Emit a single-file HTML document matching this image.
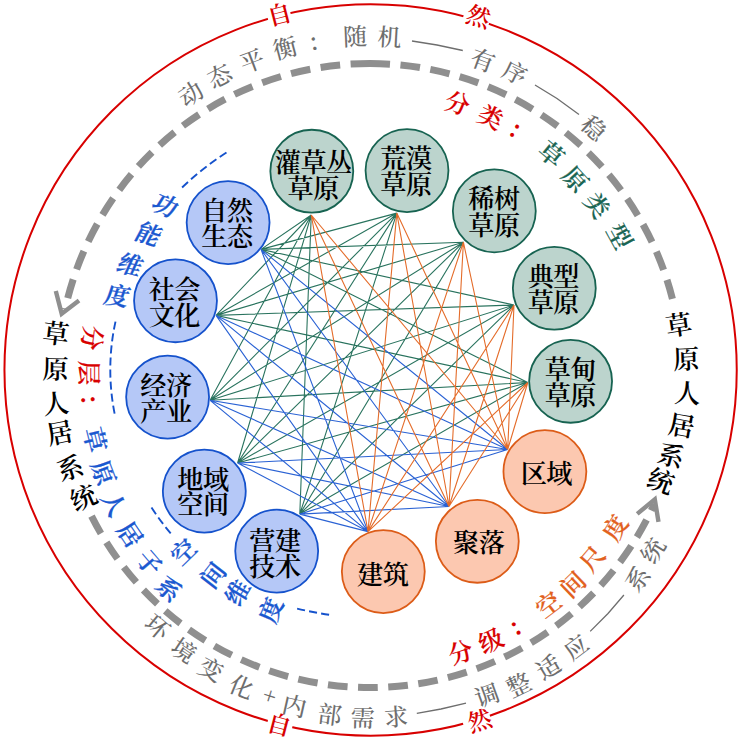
<!DOCTYPE html>
<html lang="zh-CN">
<head>
<meta charset="utf-8">
<title>草原人居系统</title>
<style>
html,body{margin:0;padding:0;background:#fff;}
body{width:741px;height:741px;overflow:hidden;font-family:"Liberation Serif",serif;}
svg{display:block;}
.t text{font-family:"Liberation Serif",serif;font-size:24px;fill:none;stroke:none;}
.k{font-family:"Liberation Serif","Noto Serif CJK SC",serif;text-anchor:middle;}
.b{font-weight:600;}
.m{font-weight:500;}
</style>
</head>
<body>
<svg width="741" height="741" viewBox="0 0 741 741">
<rect width="741" height="741" fill="#fff"/>
<ellipse cx="370.6" cy="369.95" rx="366.15" ry="365.75" fill="none" stroke="#d80000" stroke-width="2"/>
<rect x="-12.2" y="-13" width="23.3" height="26" fill="#fff" transform="translate(279.3 14.2) rotate(-14.39)"/>
<text class="k b" transform="translate(279.3 14.2) rotate(-14.39)" y="9.12" font-size="24" fill="#d80000">自</text>
<rect x="-14.5" y="-13" width="26.5" height="26" fill="#fff" transform="translate(478.6 16.2) rotate(16.98)"/>
<text class="k b" transform="translate(478.6 16.2) rotate(16.98)" y="9.12" font-size="24" fill="#d80000">然</text>
<rect x="-12" y="-13" width="25.3" height="26" fill="#fff" transform="translate(279.3 724.3) rotate(14.45)"/>
<text class="k b" transform="translate(279.3 724.3) rotate(14.45)" y="9.12" font-size="24" fill="#d80000">自</text>
<rect x="-16.6" y="-13" width="27.9" height="26" fill="#fff" transform="translate(479.4 720.3) rotate(-17.25)"/>
<text class="k b" transform="translate(479.4 720.3) rotate(-17.25)" y="9.12" font-size="24" fill="#d80000">然</text>
<path d="M389.99 64.14A312 312 0 0 0 350.61 64.1M340.15 64.93A312 312 0 0 0 320.61 67.43M310.27 69.27A312 312 0 0 0 291.07 73.65M280.96 76.48A312 312 0 0 0 262.26 82.69M252.47 86.48A312 312 0 0 0 234.47 94.47M225.09 99.19A312 312 0 0 0 207.95 108.89M199.07 114.49A312 312 0 0 0 182.94 125.8M174.64 132.23A312 312 0 0 0 159.68 145.04M152.05 152.25A312 312 0 0 0 138.39 166.45M131.49 174.36A312 312 0 0 0 119.27 189.81M113.17 198.35A312 312 0 0 0 102.5 214.91M97.25 224A312 312 0 0 0 88.23 241.51M83.89 251.07A312 312 0 0 0 76.6 269.37M73.2 279.3A312 312 0 0 0 67.72 298.22M65.29 308.44A312 312 0 0 0 65.05 309.57" fill="none" stroke="#8f8f8f" stroke-width="7"/>
<path d="M400.45 64.99A312 312 0 0 1 419.98 67.53M430.32 69.39A312 312 0 0 1 449.51 73.8M459.62 76.65A312 312 0 0 1 478.3 82.9M488.08 86.71A312 312 0 0 1 506.07 94.73M515.44 99.47A312 312 0 0 1 532.57 109.2M541.43 114.82A312 312 0 0 1 557.54 126.16M565.83 132.61A312 312 0 0 1 580.76 145.45M588.38 152.67A312 312 0 0 1 602.01 166.89M608.9 174.82A312 312 0 0 1 621.08 190.29M627.17 198.85A312 312 0 0 1 637.81 215.43M643.04 224.53A312 312 0 0 1 652.02 242.06M656.35 251.62A312 312 0 0 1 663.6 269.94M666.98 279.88A312 312 0 0 1 672.43 298.81" fill="none" stroke="#8f8f8f" stroke-width="7"/>
<path d="M55.8 291 L61.7 313.7 L79 300.6" fill="none" stroke="#8f8f8f" stroke-width="4.4" stroke-linejoin="miter" stroke-miterlimit="10"/>
<path d="M358.05 687.27A312 312 0 0 0 377.75 687.4M388.24 686.97A312 312 0 0 0 407.86 685.19M418.26 683.75A312 312 0 0 0 437.61 680.09M447.82 677.64A312 312 0 0 0 466.73 672.13M476.66 668.7A312 312 0 0 0 494.94 661.39M504.49 657.02A312 312 0 0 0 521.99 647.98M531.07 642.71A312 312 0 0 0 547.61 632.01M556.14 625.89A312 312 0 0 0 571.57 613.65M579.47 606.73A312 312 0 0 0 593.64 593.05M600.83 585.4A312 312 0 0 0 613.62 570.42M620.04 562.11A312 312 0 0 0 631.32 545.96M636.9 537.07A312 312 0 0 0 646.57 519.91M651.27 510.52A312 312 0 0 0 654.36 503.89" fill="none" stroke="#8f8f8f" stroke-width="7"/>
<path d="M347.57 686.69A312 312 0 0 1 327.98 684.66M317.6 683.07A312 312 0 0 1 298.3 679.15M288.12 676.56A312 312 0 0 1 269.29 670.8M259.41 667.24A312 312 0 0 1 241.22 659.68M231.73 655.19A312 312 0 0 1 214.36 645.91M205.35 640.52A312 312 0 0 1 188.95 629.6M180.51 623.36A312 312 0 0 1 165.24 610.91M157.44 603.89A312 312 0 0 1 143.45 590.02M136.36 582.28A312 312 0 0 1 123.78 567.12M117.47 558.73A312 312 0 0 1 106.41 542.43M100.95 533.47A312 312 0 0 1 91.51 516.17" fill="none" stroke="#8f8f8f" stroke-width="7"/>
<path d="M637.2 513.9 L654.8 499.4 L658.5 521.8" fill="none" stroke="#8f8f8f" stroke-width="4.4" stroke-linejoin="miter" stroke-miterlimit="10"/>
<path d="M226.5 152.5A285.19 285.19 0 0 0 219.74 156.96M216.42 159.24A285.19 285.19 0 0 0 209.85 163.98M206.63 166.41A285.19 285.19 0 0 0 200.27 171.43M197.15 173.99A285.19 285.19 0 0 0 191.01 179.27M188.01 181.96A285.19 285.19 0 0 0 182.1 187.5" fill="none" stroke="#1552cc" stroke-width="1.9"/>
<path d="M115.5 321.6A225.23 225.23 0 0 0 113.91 329.54M113.23 333.46A225.23 225.23 0 0 0 112.07 341.48M111.61 345.43A225.23 225.23 0 0 0 110.88 353.5M110.63 357.47A225.23 225.23 0 0 0 110.33 365.56M110.29 369.54A225.23 225.23 0 0 0 110.43 377.64M110.6 381.62A225.23 225.23 0 0 0 111.18 389.7M111.56 393.66A225.23 225.23 0 0 0 112.57 401.69M113.17 405.63A225.23 225.23 0 0 0 114.6 413.6" fill="none" stroke="#1552cc" stroke-width="1.9"/>
<path d="M151.5 507.5A240.01 240.01 0 0 0 156 514.23M158.28 517.45A240.01 240.01 0 0 0 163.11 523.95M165.54 527.05A240.01 240.01 0 0 0 170.7 533.3" fill="none" stroke="#1552cc" stroke-width="1.9"/>
<path d="M297.1 608.6A366.08 366.08 0 0 0 305 610.38M309.06 611.23A366.08 366.08 0 0 0 317.01 612.74M321.1 613.45A366.08 366.08 0 0 0 329.1 614.7" fill="none" stroke="#1552cc" stroke-width="1.9"/>
<path d="M311.25 215L299.8 514.1M311.25 215L237.6 463M311.25 215L210.1 400.3M311.25 215L216 315.4M311.25 215L261 249.4M396.8 213.1L299.8 514.1M396.8 213.1L237.6 463M396.8 213.1L210.1 400.3M396.8 213.1L216 315.4M396.8 213.1L261 249.4M463.4 242.2L299.8 514.1M463.4 242.2L237.6 463M463.4 242.2L210.1 400.3M463.4 242.2L216 315.4M463.4 242.2L261 249.4M514 305L299.8 514.1M514 305L237.6 463M514 305L210.1 400.3M514 305L216 315.4M514 305L261 249.4M527.8 382.5L299.8 514.1M527.8 382.5L237.6 463M527.8 382.5L210.1 400.3M527.8 382.5L216 315.4M527.8 382.5L261 249.4" fill="none" stroke="#29735e" stroke-width="1.1"/>
<path d="M299.8 514.1L507.7 449.5M299.8 514.1L449 506.5M299.8 514.1L368 531.6M237.6 463L507.7 449.5M237.6 463L449 506.5M237.6 463L368 531.6M210.1 400.3L507.7 449.5M210.1 400.3L449 506.5M210.1 400.3L368 531.6M216 315.4L507.7 449.5M216 315.4L449 506.5M216 315.4L368 531.6M261 249.4L507.7 449.5M261 249.4L449 506.5M261 249.4L368 531.6" fill="none" stroke="#2a62d4" stroke-width="1.1"/>
<path d="M311.25 215L507.7 449.5M311.25 215L449 506.5M311.25 215L368 531.6M396.8 213.1L507.7 449.5M396.8 213.1L449 506.5M396.8 213.1L368 531.6M463.4 242.2L507.7 449.5M463.4 242.2L449 506.5M463.4 242.2L368 531.6M514 305L507.7 449.5M514 305L449 506.5M514 305L368 531.6M527.8 382.5L507.7 449.5M527.8 382.5L449 506.5M527.8 382.5L368 531.6" fill="none" stroke="#e46c2a" stroke-width="1.1"/>
<circle cx="311.8" cy="171.2" r="41.45" fill="#bcd4cd" stroke="#176351" stroke-width="1.8"/>
<text class="k b" x="287.8" y="172.16" font-size="26.2" fill="#000">灌</text>
<text class="k b" x="313.5" y="172.16" font-size="26.2" fill="#000">草</text>
<text class="k b" x="339.2" y="172.16" font-size="26.2" fill="#000">丛</text>
<text class="k b" x="300.65" y="198.16" font-size="26.2" fill="#000">草</text>
<text class="k b" x="326.35" y="198.16" font-size="26.2" fill="#000">原</text>
<circle cx="407" cy="170.6" r="41.45" fill="#bcd4cd" stroke="#176351" stroke-width="1.8"/>
<text class="k b" x="393.45" y="168.46" font-size="26.2" fill="#000">荒</text>
<text class="k b" x="419.15" y="168.46" font-size="26.2" fill="#000">漠</text>
<text class="k b" x="393.45" y="194.36" font-size="26.2" fill="#000">草</text>
<text class="k b" x="419.15" y="194.36" font-size="26.2" fill="#000">原</text>
<circle cx="494.3" cy="210.9" r="41.45" fill="#bcd4cd" stroke="#176351" stroke-width="1.8"/>
<text class="k b" x="481.45" y="208.46" font-size="26.2" fill="#000">稀</text>
<text class="k b" x="507.15" y="208.46" font-size="26.2" fill="#000">树</text>
<text class="k b" x="481.45" y="234.76" font-size="26.2" fill="#000">草</text>
<text class="k b" x="507.15" y="234.76" font-size="26.2" fill="#000">原</text>
<circle cx="554.3" cy="288.25" r="41.45" fill="#bcd4cd" stroke="#176351" stroke-width="1.8"/>
<text class="k b" x="540.75" y="286.06" font-size="26.2" fill="#000">典</text>
<text class="k b" x="566.45" y="286.06" font-size="26.2" fill="#000">型</text>
<text class="k b" x="540.75" y="312.06" font-size="26.2" fill="#000">草</text>
<text class="k b" x="566.45" y="312.06" font-size="26.2" fill="#000">原</text>
<circle cx="570.6" cy="381.3" r="41.45" fill="#bcd4cd" stroke="#176351" stroke-width="1.8"/>
<text class="k b" x="557.75" y="378.76" font-size="26.2" fill="#000">草</text>
<text class="k b" x="583.45" y="378.76" font-size="26.2" fill="#000">甸</text>
<text class="k b" x="557.75" y="404.76" font-size="26.2" fill="#000">草</text>
<text class="k b" x="583.45" y="404.76" font-size="26.2" fill="#000">原</text>
<circle cx="544.9" cy="471.6" r="41.45" fill="#fcc8b0" stroke="#dc5c18" stroke-width="1.8"/>
<text class="k b" x="533.75" y="482.96" font-size="26.2" fill="#000">区</text>
<text class="k b" x="559.45" y="482.96" font-size="26.2" fill="#000">域</text>
<circle cx="477.3" cy="541.3" r="41.45" fill="#fcc8b0" stroke="#dc5c18" stroke-width="1.8"/>
<text class="k b" x="466.15" y="551.56" font-size="26.2" fill="#000">聚</text>
<text class="k b" x="491.85" y="551.56" font-size="26.2" fill="#000">落</text>
<circle cx="383.3" cy="571.6" r="41.45" fill="#fcc8b0" stroke="#dc5c18" stroke-width="1.8"/>
<text class="k b" x="370.05" y="583.96" font-size="26.2" fill="#000">建</text>
<text class="k b" x="395.75" y="583.96" font-size="26.2" fill="#000">筑</text>
<circle cx="276.7" cy="551.1" r="41.45" fill="#b5c8f7" stroke="#1552cc" stroke-width="1.8"/>
<text class="k b" x="262.45" y="549.76" font-size="26.2" fill="#000">营</text>
<text class="k b" x="288.15" y="549.76" font-size="26.2" fill="#000">建</text>
<text class="k b" x="262.45" y="576.06" font-size="26.2" fill="#000">技</text>
<text class="k b" x="288.15" y="576.06" font-size="26.2" fill="#000">术</text>
<circle cx="204.3" cy="491.1" r="41.45" fill="#b5c8f7" stroke="#1552cc" stroke-width="1.8"/>
<text class="k b" x="190.45" y="488.76" font-size="26.2" fill="#000">地</text>
<text class="k b" x="216.15" y="488.76" font-size="26.2" fill="#000">域</text>
<text class="k b" x="190.45" y="514.36" font-size="26.2" fill="#000">空</text>
<text class="k b" x="216.15" y="514.36" font-size="26.2" fill="#000">间</text>
<circle cx="167.6" cy="397.1" r="41.45" fill="#b5c8f7" stroke="#1552cc" stroke-width="1.8"/>
<text class="k b" x="153.45" y="395.36" font-size="26.2" fill="#000">经</text>
<text class="k b" x="179.15" y="395.36" font-size="26.2" fill="#000">济</text>
<text class="k b" x="153.45" y="421.06" font-size="26.2" fill="#000">产</text>
<text class="k b" x="179.15" y="421.06" font-size="26.2" fill="#000">业</text>
<circle cx="175.5" cy="300.8" r="41.45" fill="#b5c8f7" stroke="#1552cc" stroke-width="1.8"/>
<text class="k b" x="161.75" y="298.76" font-size="26.2" fill="#000">社</text>
<text class="k b" x="187.45" y="298.76" font-size="26.2" fill="#000">会</text>
<text class="k b" x="161.75" y="324.71" font-size="26.2" fill="#000">文</text>
<text class="k b" x="187.45" y="324.71" font-size="26.2" fill="#000">化</text>
<circle cx="228.1" cy="222.6" r="41.45" fill="#b5c8f7" stroke="#1552cc" stroke-width="1.8"/>
<text class="k b" x="214.35" y="220.06" font-size="26.2" fill="#000">自</text>
<text class="k b" x="240.05" y="220.06" font-size="26.2" fill="#000">然</text>
<text class="k b" x="214.35" y="246.36" font-size="26.2" fill="#000">生</text>
<text class="k b" x="240.05" y="246.36" font-size="26.2" fill="#000">态</text>
<text class="k m" transform="translate(190.7 93.7) rotate(-32.79)" y="9.12" font-size="24" fill="#6e6e6e">动</text>
<text class="k m" transform="translate(219.4 75.8) rotate(-26.95)" y="9.12" font-size="24" fill="#6e6e6e">态</text>
<text class="k m" transform="translate(252 60.6) rotate(-20.75)" y="9.12" font-size="24" fill="#6e6e6e">平</text>
<text class="k m" transform="translate(285 47.8) rotate(-14.69)" y="9.12" font-size="24" fill="#6e6e6e">衡</text>
<text class="k m" style="text-anchor:start" transform="translate(314 43.7) rotate(-9.68)" x="-5.82" y="7.18" font-size="24" fill="#6e6e6e">：</text>
<text class="k m" transform="translate(355 36.2) rotate(-2.56)" y="9.12" font-size="24" fill="#6e6e6e">随</text>
<text class="k m" transform="translate(389.6 36.9) rotate(3.35)" y="9.12" font-size="24" fill="#6e6e6e">机</text>
<text class="k m" transform="translate(483 60) rotate(19.91)" y="9.12" font-size="24" fill="#6e6e6e">有</text>
<text class="k m" transform="translate(515 72.4) rotate(25.83)" y="9.12" font-size="24" fill="#6e6e6e">序</text>
<text class="k m" transform="translate(594 128) rotate(42.55)" y="9.12" font-size="24" fill="#6e6e6e">稳</text>
<path d="M412 41 L437 45 L462.8 50.5" fill="none" stroke="#6e6e6e" stroke-width="1.3"/>
<path d="M535 85 L557 98.5 L579 114.6" fill="none" stroke="#6e6e6e" stroke-width="1.3"/>
<text class="k m" transform="translate(157.5 626.8) rotate(39.83)" y="9.12" font-size="24" fill="#6e6e6e">环</text>
<text class="k m" transform="translate(183.9 650.4) rotate(33.76)" y="9.12" font-size="24" fill="#6e6e6e">境</text>
<text class="k m" transform="translate(211.2 669) rotate(28.13)" y="9.12" font-size="24" fill="#6e6e6e">变</text>
<text class="k m" transform="translate(241.8 686.5) rotate(22.18)" y="9.12" font-size="24" fill="#6e6e6e">化</text>
<text class="k m" transform="translate(269.8 695.3) rotate(17.22)" y="8.6" font-size="24" fill="#6e6e6e">+</text>
<text class="k m" transform="translate(294.4 705.8) rotate(12.76)" y="9.12" font-size="24" fill="#6e6e6e">内</text>
<text class="k m" transform="translate(329.8 714.3) rotate(6.7)" y="9.12" font-size="24" fill="#6e6e6e">部</text>
<text class="k m" transform="translate(362.7 717.6) rotate(1.21)" y="9.12" font-size="24" fill="#6e6e6e">需</text>
<text class="k m" transform="translate(396 716.6) rotate(-4.31)" y="9.12" font-size="24" fill="#6e6e6e">求</text>
<text class="k m" transform="translate(487 695) rotate(-19.91)" y="9.12" font-size="24" fill="#6e6e6e">调</text>
<text class="k m" transform="translate(518.6 684.6) rotate(-25.42)" y="9.12" font-size="24" fill="#6e6e6e">整</text>
<text class="k m" transform="translate(548.4 667) rotate(-31.16)" y="9.12" font-size="24" fill="#6e6e6e">适</text>
<text class="k m" transform="translate(576 647) rotate(-36.84)" y="9.12" font-size="24" fill="#6e6e6e">应</text>
<text class="k m" transform="translate(637.4 578.8) rotate(-52.28)" y="9.12" font-size="24" fill="#6e6e6e">系</text>
<text class="k m" transform="translate(652.8 550.4) rotate(-57.75)" y="9.12" font-size="24" fill="#6e6e6e">统</text>
<path d="M416.8 713.3 L441 709 L466 703.2" fill="none" stroke="#6e6e6e" stroke-width="1.3"/>
<path d="M590.2 631.4 L608 613.5 L623.9 595" fill="none" stroke="#6e6e6e" stroke-width="1.3"/>
<text class="k b" transform="translate(56 333.2) rotate(7.04)" y="9.99" font-size="26.3" fill="#000">草</text>
<text class="k b" transform="translate(55.6 368.6) rotate(0.62)" y="9.99" font-size="26.3" fill="#000">原</text>
<text class="k b" transform="translate(55.8 403.2) rotate(-5.67)" y="9.99" font-size="26.3" fill="#000">人</text>
<text class="k b" transform="translate(59.7 432.6) rotate(-11.05)" y="9.99" font-size="26.3" fill="#000">居</text>
<text class="k b" transform="translate(70.1 467.7) rotate(-17.7)" y="9.99" font-size="26.3" fill="#000">系</text>
<text class="k b" transform="translate(83.4 497.4) rotate(-23.63)" y="9.99" font-size="26.3" fill="#000">统</text>
<text class="k b" transform="translate(678.7 324.5) rotate(-8.75)" y="9.99" font-size="26.3" fill="#000">草</text>
<text class="k b" transform="translate(686.1 358.6) rotate(-2.43)" y="9.99" font-size="26.3" fill="#000">原</text>
<text class="k b" transform="translate(687.6 392.8) rotate(3.75)" y="9.99" font-size="26.3" fill="#000">人</text>
<text class="k b" transform="translate(681.7 425.4) rotate(9.72)" y="9.99" font-size="26.3" fill="#000">居</text>
<text class="k b" transform="translate(671.3 455.1) rotate(15.42)" y="9.99" font-size="26.3" fill="#000">系</text>
<text class="k b" transform="translate(660.8 480.8) rotate(20.51)" y="9.99" font-size="26.3" fill="#000">统</text>
<text class="k b" transform="translate(457.6 102.9) rotate(18.03)" y="9.31" font-size="24.5" fill="#d80000" stroke="#d80000" stroke-width="0.18" stroke-linejoin="round">分</text>
<text class="k b" transform="translate(490.9 116.9) rotate(25.36)" y="9.31" font-size="24.5" fill="#d80000" stroke="#d80000" stroke-width="0.18" stroke-linejoin="round">类</text>
<text class="k b" style="text-anchor:start" transform="translate(514.6 130.9) rotate(30.95)" x="-6.19" y="7.4" font-size="24.5" fill="#d80000" stroke="#d80000" stroke-width="0.18" stroke-linejoin="round">：</text>
<text class="k b" transform="translate(551.7 153.7) rotate(39.77)" y="9.31" font-size="24.5" fill="#1a6553" stroke="#1a6553" stroke-width="0.18" stroke-linejoin="round">草</text>
<text class="k b" transform="translate(575.5 179) rotate(46.8)" y="9.31" font-size="24.5" fill="#1a6553" stroke="#1a6553" stroke-width="0.18" stroke-linejoin="round">原</text>
<text class="k b" transform="translate(597.2 205.1) rotate(53.7)" y="9.31" font-size="24.5" fill="#1a6553" stroke="#1a6553" stroke-width="0.18" stroke-linejoin="round">类</text>
<text class="k b" transform="translate(620 236.3) rotate(61.51)" y="9.31" font-size="24.5" fill="#1a6553" stroke="#1a6553" stroke-width="0.18" stroke-linejoin="round">型</text>
<text class="k b" transform="translate(92.6 338) rotate(96.99)" y="9.31" font-size="24.5" fill="#d80000" stroke="#d80000" stroke-width="0.18" stroke-linejoin="round">分</text>
<text class="k b" transform="translate(89.3 373) rotate(89.8)" y="9.31" font-size="24.5" fill="#d80000" stroke="#d80000" stroke-width="0.18" stroke-linejoin="round">层</text>
<text class="k b" style="text-anchor:start" transform="translate(87.9 399.8) rotate(84.37)" x="-6.19" y="7.4" font-size="24.5" fill="#d80000" stroke="#d80000" stroke-width="0.18" stroke-linejoin="round">：</text>
<text class="k b" transform="translate(95.3 439.6) rotate(76.17)" y="9.31" font-size="24.5" fill="#1a58d0" stroke="#1a58d0" stroke-width="0.3" stroke-linejoin="round">草</text>
<text class="k b" transform="translate(103.5 472.7) rotate(69.3)" y="9.31" font-size="24.5" fill="#1a58d0" stroke="#1a58d0" stroke-width="0.3" stroke-linejoin="round">原</text>
<text class="k b" transform="translate(114.2 503.8) rotate(62.74)" y="9.31" font-size="24.5" fill="#1a58d0" stroke="#1a58d0" stroke-width="0.3" stroke-linejoin="round">人</text>
<text class="k b" transform="translate(130.4 534.4) rotate(55.87)" y="9.31" font-size="24.5" fill="#1a58d0" stroke="#1a58d0" stroke-width="0.3" stroke-linejoin="round">居</text>
<text class="k b" transform="translate(149.6 562.5) rotate(49.16)" y="9.31" font-size="24.5" fill="#1a58d0" stroke="#1a58d0" stroke-width="0.3" stroke-linejoin="round">子</text>
<text class="k b" transform="translate(169 588.8) rotate(42.83)" y="9.31" font-size="24.5" fill="#1a58d0" stroke="#1a58d0" stroke-width="0.3" stroke-linejoin="round">系</text>
<text class="k b" transform="translate(460.5 652) rotate(-17.91)" y="9.31" font-size="24.5" fill="#d80000" stroke="#d80000" stroke-width="0.18" stroke-linejoin="round">分</text>
<text class="k b" transform="translate(490.8 640.6) rotate(-24.22)" y="9.31" font-size="24.5" fill="#d80000" stroke="#d80000" stroke-width="0.18" stroke-linejoin="round">级</text>
<text class="k b" style="text-anchor:start" transform="translate(516.3 628.4) rotate(-29.71)" x="-6.19" y="7.4" font-size="24.5" fill="#d80000" stroke="#d80000" stroke-width="0.18" stroke-linejoin="round">：</text>
<text class="k b" transform="translate(548.3 604.5) rotate(-37.48)" y="9.31" font-size="24.5" fill="#e2611e" stroke="#e2611e" stroke-width="0.18" stroke-linejoin="round">空</text>
<text class="k b" transform="translate(572.6 584.3) rotate(-43.66)" y="9.31" font-size="24.5" fill="#e2611e" stroke="#e2611e" stroke-width="0.18" stroke-linejoin="round">间</text>
<text class="k b" transform="translate(592.2 558.7) rotate(-49.96)" y="9.31" font-size="24.5" fill="#e2611e" stroke="#e2611e" stroke-width="0.18" stroke-linejoin="round">尺</text>
<text class="k b" transform="translate(615 527.6) rotate(-57.58)" y="9.31" font-size="24.5" fill="#e2611e" stroke="#e2611e" stroke-width="0.18" stroke-linejoin="round">度</text>
<text class="k b" transform="translate(165.4 205) rotate(23) skewX(-9)" y="9.31" font-size="24.5" fill="#1a58d0" stroke="#1a58d0" stroke-width="0.3" stroke-linejoin="round">功</text>
<text class="k b" transform="translate(149 234) rotate(19) skewX(-9)" y="9.31" font-size="24.5" fill="#1a58d0" stroke="#1a58d0" stroke-width="0.3" stroke-linejoin="round">能</text>
<text class="k b" transform="translate(130.5 264.5) rotate(15) skewX(-9)" y="9.31" font-size="24.5" fill="#1a58d0" stroke="#1a58d0" stroke-width="0.3" stroke-linejoin="round">维</text>
<text class="k b" transform="translate(117.6 295.5) rotate(9) skewX(-9)" y="9.31" font-size="24.5" fill="#1a58d0" stroke="#1a58d0" stroke-width="0.3" stroke-linejoin="round">度</text>
<text class="k b" transform="translate(183.4 551.6) rotate(-43.9)" y="9.31" font-size="24.5" fill="#1a58d0" stroke="#1a58d0" stroke-width="0.3" stroke-linejoin="round">空</text>
<text class="k b" transform="translate(212.8 575) rotate(-52.25)" y="9.31" font-size="24.5" fill="#1a58d0" stroke="#1a58d0" stroke-width="0.3" stroke-linejoin="round">间</text>
<text class="k b" transform="translate(237.4 592.5) rotate(-58.98)" y="9.31" font-size="24.5" fill="#1a58d0" stroke="#1a58d0" stroke-width="0.3" stroke-linejoin="round">维</text>
<text class="k b" transform="translate(270.7 610.1) rotate(-67.36)" y="9.31" font-size="24.5" fill="#1a58d0" stroke="#1a58d0" stroke-width="0.3" stroke-linejoin="round">度</text>
</svg>
</body>
</html>
